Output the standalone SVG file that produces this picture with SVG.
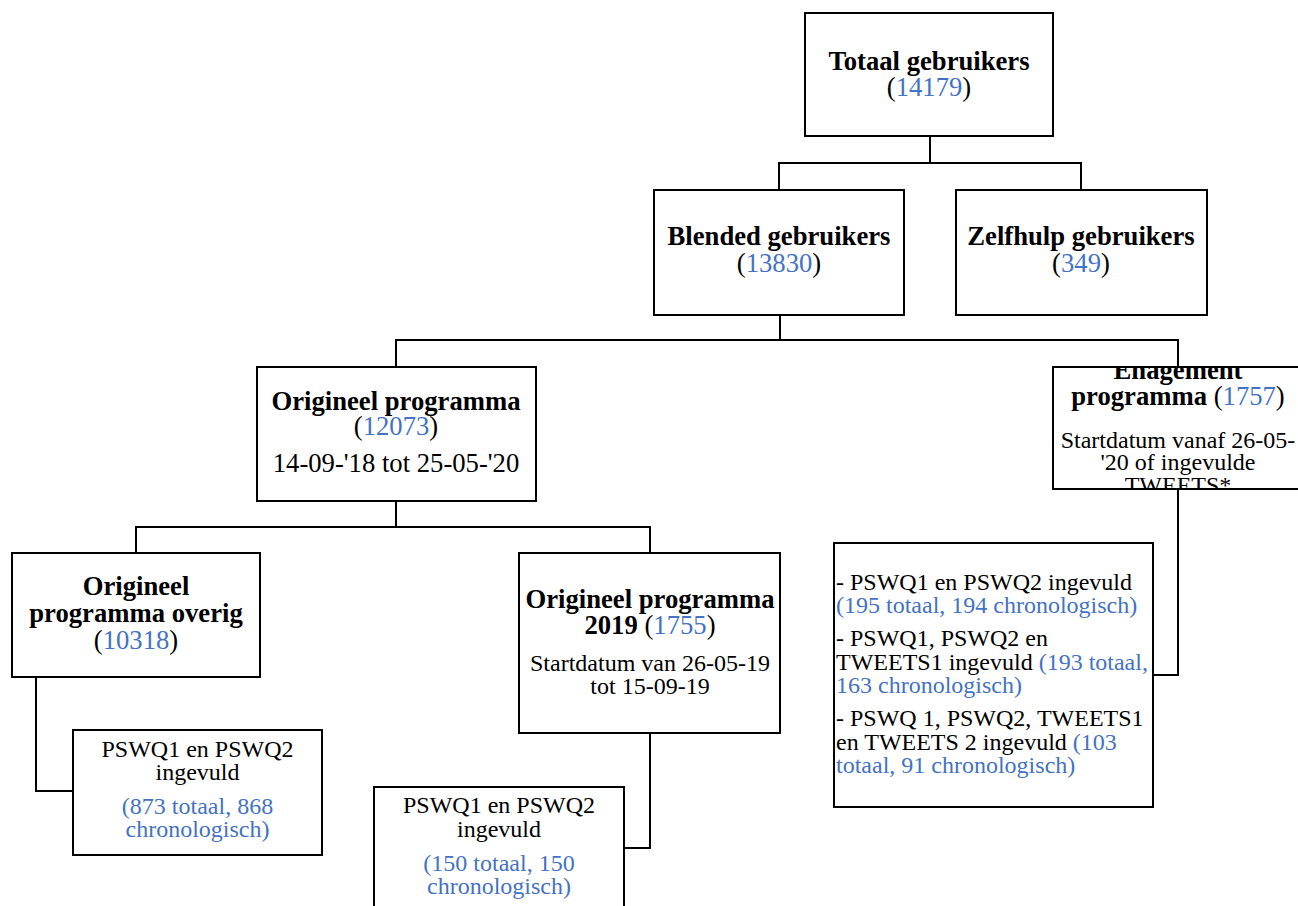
<svg xmlns="http://www.w3.org/2000/svg" width="1298" height="906" viewBox="0 0 1298 906">
<style>
.box{fill:#fff;stroke:#000;stroke-width:2}
.con{fill:none;stroke:#000;stroke-width:2;stroke-linecap:square}
.t{fill:#000;font-family:"Liberation Serif","Times New Roman",serif}
.c{text-anchor:middle}
.b{font-weight:bold;font-size:26.67px}
.r{font-size:26.67px}
.s{font-size:24px}
.t .bl{fill:#4472C4;font-weight:normal}
.t .nb{font-weight:normal}
</style>
<defs>
<clipPath id="engClip"><rect x="1054" y="368" width="248" height="120"/></clipPath>
</defs>
<rect width="1298" height="906" fill="#fff"/>
<g id="connectors">
<path class="con" d="M930 137V163M779 163H1081M779 163V189M1081 163V189"/>
<path class="con" d="M780 316V340M396 340H1178M396 340V366M1178 340V366"/>
<path class="con" d="M396 502V527M136 527H650M136 527V552M650 527V552"/>
<path class="con" d="M36 678V791H72"/>
<path class="con" d="M650 734V848H625"/>
<path class="con" d="M1178 490V675H1154"/>
</g>
<g class="t" font-family="'Liberation Serif', 'Times New Roman', serif">
<g id="totaal">
<rect class="box" x="805" y="13" width="248" height="123"/>
<text class="c b" x="929" y="70">Totaal gebruikers</text>
<text class="c r" x="929" y="96">(<tspan class="bl">14179</tspan>)</text>
</g>
<g id="blended">
<rect class="box" x="654" y="190" width="250" height="125"/>
<text class="c b" x="779" y="245">Blended gebruikers</text>
<text class="c r" x="779" y="271.5">(<tspan class="bl">13830</tspan>)</text>
</g>
<g id="zelfhulp">
<rect class="box" x="956" y="190" width="251" height="125"/>
<text class="c b" x="1081" y="245">Zelfhulp gebruikers</text>
<text class="c r" x="1081" y="271.5">(<tspan class="bl">349</tspan>)</text>
</g>
<g id="origineel">
<rect class="box" x="257" y="367" width="279" height="134"/>
<text class="c b" x="396" y="409.5">Origineel programma</text>
<text class="c r" x="396" y="435">(<tspan class="bl">12073</tspan>)</text>
<text class="c r" x="396" y="471.5">14-09-'18 tot 25-05-'20</text>
</g>
<g id="engagement">
<rect class="box" x="1053" y="367" width="250" height="122"/>
<g clip-path="url(#engClip)">
<text class="c b" x="1178" y="378.5">Enagement</text>
<text class="c b" x="1178" y="404.5">programma <tspan class="nb">(</tspan><tspan class="bl">1757</tspan><tspan class="nb">)</tspan></text>
<text class="c s" x="1178" y="447.5">Startdatum vanaf 26-05-</text>
<text class="c s" x="1178" y="470">'20 of ingevulde</text>
<text class="c s" x="1178" y="493">TWEETS*</text>
</g>
</g>
<g id="overig">
<rect class="box" x="12" y="553" width="248" height="124"/>
<text class="c b" x="136" y="595">Origineel</text>
<text class="c b" x="136" y="622">programma overig</text>
<text class="c r" x="136" y="649">(<tspan class="bl">10318</tspan>)</text>
</g>
<g id="prog2019">
<rect class="box" x="519" y="553" width="261" height="180"/>
<text class="c b" x="650" y="608">Origineel programma</text>
<text class="c b" x="650" y="634">2019 <tspan class="nb">(</tspan><tspan class="bl">1755</tspan><tspan class="nb">)</tspan></text>
<text class="c s" x="650" y="671">Startdatum van 26-05-19</text>
<text class="c s" x="650" y="694">tot 15-09-19</text>
</g>
<g id="pswq-overig">
<rect class="box" x="73" y="730" width="249" height="125"/>
<text class="c s" x="197.5" y="757">PSWQ1 en PSWQ2</text>
<text class="c s" x="197.5" y="780">ingevuld</text>
<text class="c s bl" x="197.5" y="814">(873 totaal, 868</text>
<text class="c s bl" x="197.5" y="837">chronologisch)</text>
</g>
<g id="pswq-2019">
<rect class="box" x="374" y="787" width="250" height="130"/>
<text class="c s" x="499" y="813">PSWQ1 en PSWQ2</text>
<text class="c s" x="499" y="836.5">ingevuld</text>
<text class="c s bl" x="499" y="870.5">(150 totaal, 150</text>
<text class="c s bl" x="499" y="894">chronologisch)</text>
</g>
<g id="engagement-list">
<rect class="box" x="834" y="543" width="319" height="264"/>
<text class="s" x="836" y="589.5">- PSWQ1 en PSWQ2 ingevuld</text>
<text class="s bl" x="836" y="612.5">(195 totaal, 194 chronologisch)</text>
<text class="s" x="836" y="646">- PSWQ1, PSWQ2 en</text>
<text class="s" x="836" y="669.5">TWEETS1 ingevuld <tspan class="bl">(193 totaal,</tspan></text>
<text class="s bl" x="836" y="692.5">163 chronologisch)</text>
<text class="s" x="836" y="726">- PSWQ 1, PSWQ2, TWEETS1</text>
<text class="s" x="836" y="749.5">en TWEETS 2 ingevuld <tspan class="bl">(103</tspan></text>
<text class="s bl" x="836" y="772.5">totaal, 91 chronologisch)</text>
</g>
</g>
</svg>
